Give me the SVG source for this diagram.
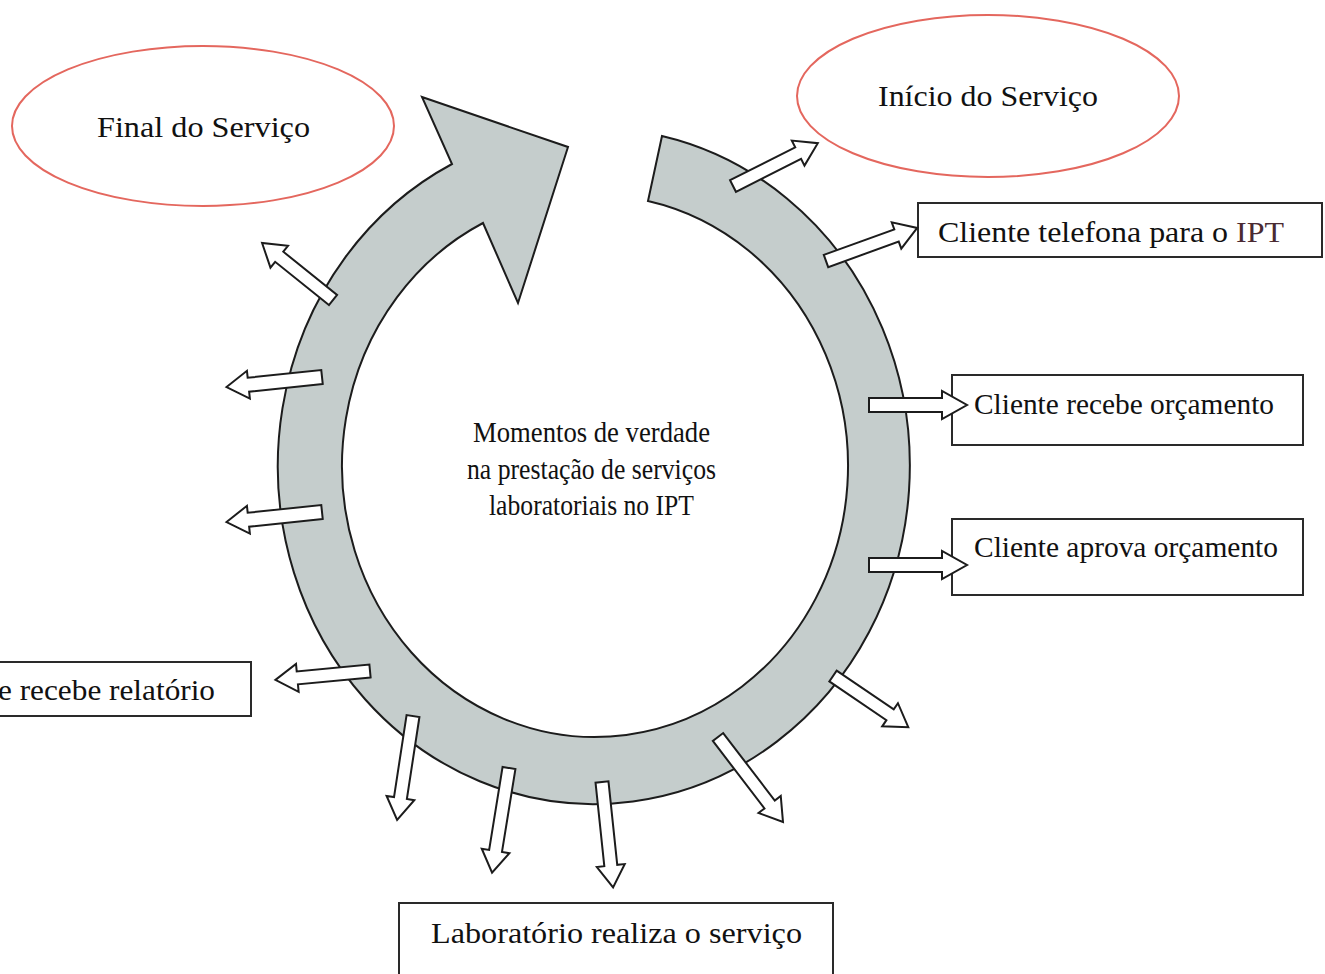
<svg xmlns="http://www.w3.org/2000/svg" width="1325" height="974" viewBox="0 0 1325 974">
<style>
.lbl{font-family:"Liberation Serif","Times New Roman",serif;font-size:30px;fill:#111}
.ctr{font-family:"Liberation Serif","Times New Roman",serif;font-size:29px;fill:#111}
.oval{fill:none;stroke:#e4675e;stroke-width:2}
.box{fill:#fff;stroke:#2a2a2a;stroke-width:2}
.ring{fill:#c5cdcc;stroke:#1c1c1c;stroke-width:2;stroke-linejoin:miter}
.sa{fill:#fff;stroke:#1c1c1c;stroke-width:2;stroke-linejoin:miter}
</style>
<rect width="1325" height="974" fill="#fff"/>
<g id="cycle">
<path class="ring" d="M 662 136 A 316 338 0 1 1 452 164 L 422 97 L 568 147 L 518 303 L 483 223 A 253 271 0 1 0 648 201 Z"/>
</g>
<g id="center-label">
<text class="ctr" x="473" y="442" textLength="237" lengthAdjust="spacingAndGlyphs">Momentos de verdade</text>
<text class="ctr" x="467" y="479" textLength="249" lengthAdjust="spacingAndGlyphs">na prestação de serviços</text>
<text class="ctr" x="489" y="515" textLength="205" lengthAdjust="spacingAndGlyphs">laboratoriais no IPT</text>
</g>
<g id="final">
<ellipse class="oval" cx="203" cy="126" rx="191" ry="80"/>
<text class="lbl" x="97" y="137" textLength="213" lengthAdjust="spacingAndGlyphs">Final do Serviço</text>
</g>
<g id="inicio">
<ellipse class="oval" cx="988" cy="96" rx="191" ry="81"/>
<text class="lbl" x="878" y="106" textLength="220" lengthAdjust="spacingAndGlyphs">Início do Serviço</text>
</g>
<g id="telefona">
<rect class="box" x="918" y="203" width="404" height="54"/>
<text class="lbl" x="938" y="242" textLength="346" lengthAdjust="spacingAndGlyphs">Cliente telefona para o <tspan fill="#4a2a32">IPT</tspan></text>
</g>
<g id="recebe-orcamento">
<rect class="box" x="952" y="375" width="351" height="70"/>
<text class="lbl" x="974" y="414" textLength="300" lengthAdjust="spacingAndGlyphs">Cliente recebe orçamento</text>
</g>
<g id="aprova-orcamento">
<rect class="box" x="952" y="519" width="351" height="76"/>
<text class="lbl" x="974" y="557" textLength="304" lengthAdjust="spacingAndGlyphs">Cliente aprova orçamento</text>
</g>
<g id="recebe-relatorio">
<rect class="box" x="-10" y="662" width="261" height="54"/>
<text class="lbl" x="-2" y="700" textLength="217" lengthAdjust="spacingAndGlyphs">e recebe relatório</text>
</g>
<g id="laboratorio">
<rect class="box" x="399" y="903" width="434" height="80"/>
<text class="lbl" x="431" y="943" textLength="371" lengthAdjust="spacingAndGlyphs">Laboratório realiza o serviço</text>
</g>
<g id="connectors">
<path class="sa" transform="translate(733,186) rotate(-26.8)" d="M0,-6.5 H73 V-14 L95,0 L73,14 V6.5 H0 Z"/>
<path class="sa" transform="translate(826,261) rotate(-19.9)" d="M0,-6.5 H75 V-14 L97,0 L75,14 V6.5 H0 Z"/>
<path class="sa" transform="translate(869,405)" d="M0,-7 H73 V-14 L98,0 L73,14 V7 H0 Z"/>
<path class="sa" transform="translate(869,565)" d="M0,-7 H73 V-14 L98,0 L73,14 V7 H0 Z"/>
<path class="sa" transform="translate(833,676) rotate(34.2)" d="M0,-6.5 H69 V-14 L91,0 L69,14 V6.5 H0 Z"/>
<path class="sa" transform="translate(718,737) rotate(52.6)" d="M0,-6.5 H85 V-14 L107,0 L85,14 V6.5 H0 Z"/>
<path class="sa" transform="translate(602,782) rotate(84)" d="M0,-6.5 H84 V-14 L106,0 L84,14 V6.5 H0 Z"/>
<path class="sa" transform="translate(509,768) rotate(99.2)" d="M0,-6.5 H84 V-14 L106,0 L84,14 V6.5 H0 Z"/>
<path class="sa" transform="translate(413,716) rotate(98.7)" d="M0,-6.5 H83 V-14 L105,0 L83,14 V6.5 H0 Z"/>
<path class="sa" transform="translate(370,671) rotate(174.6)" d="M0,-6.5 H73 V-14 L95,0 L73,14 V6.5 H0 Z"/>
<path class="sa" transform="translate(322,377) rotate(174)" d="M0,-7 H74 V-14 L96,0 L74,14 V7 H0 Z"/>
<path class="sa" transform="translate(322,512) rotate(174)" d="M0,-7 H74 V-14 L96,0 L74,14 V7 H0 Z"/>
<path class="sa" transform="translate(333,300) rotate(-141.2)" d="M0,-6.5 H69 V-14 L91,0 L69,14 V6.5 H0 Z"/>
</g>
</svg>
